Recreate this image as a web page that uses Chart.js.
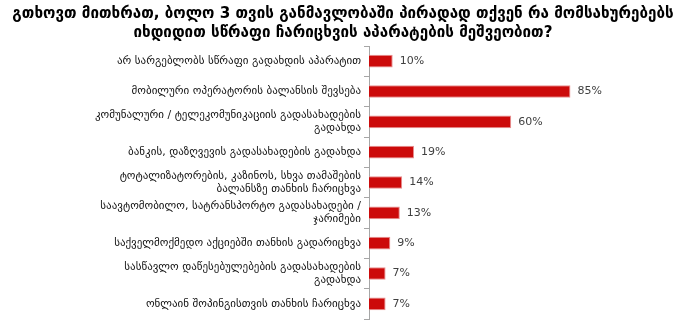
<!DOCTYPE html>
<html>
<head>
<meta charset="utf-8">
<script src="https://cdn.jsdelivr.net/npm/chart.js@4/dist/chart.umd.min.js"></script>
<style>
  html, body { margin: 0; padding: 0; background: #ffffff; }
  #wrap { width: 684px; height: 332px; position: relative; }
</style>
</head>
<body>
<div id="wrap"><canvas id="c" width="684" height="332"></canvas></div>
<script>
const titleLines = [
  "გთხოვთ მითხრათ, ბოლო 3 თვის განმავლობაში პირადად თქვენ რა მომსახურებებს",
  "იხდიდით სწრაფი ჩარიცხვის აპარატების მეშვეობით?"
];
const categories = [
  "არ სარგებლობს სწრაფი გადახდის აპარატით",
  "მობილური ოპერატორის ბალანსის შევსება",
  ["კომუნალური / ტელეკომუნიკაციის გადასახადების", "გადახდა"],
  "ბანკის, დაზღვევის გადასახადების გადახდა",
  ["ტოტალიზატორების, კაზინოს, სხვა თამაშების", "ბალანსზე თანხის ჩარიცხვა"],
  ["საავტომობილო, სატრანსპორტო გადასახადები /", "ჯარიმები"],
  "საქველმოქმედო აქციებში თანხის გადარიცხვა",
  ["სასწავლო დაწესებულებების გადასახადების", "გადახდა"],
  "ონლაინ შოპინგისთვის თანხის ჩარიცხვა"
];
const values = [10, 85, 60, 19, 14, 13, 9, 7, 7];

const FONT = "'DejaVu Sans', sans-serif";

const valueLabels = {
  id: 'valueLabels',
  afterDatasetsDraw(chart) {
    const ctx = chart.ctx;
    const meta = chart.getDatasetMeta(0);
    ctx.save();
    ctx.font = "11px " + FONT;
    ctx.fillStyle = "#404040";
    ctx.textAlign = "left";
    ctx.textBaseline = "middle";
    meta.data.forEach((bar, i) => {
      ctx.fillText(values[i] + "%", bar.x + 7, bar.y);
    });
    ctx.restore();
  }
};

const titlePlugin = {
  id: 'titlePlugin',
  afterDraw(chart) {
    const ctx = chart.ctx;
    ctx.save();
    ctx.font = "bold 15.2px " + FONT;
    ctx.fillStyle = "#000000";
    ctx.textAlign = "center";
    ctx.textBaseline = "middle";
    ctx.fillText(titleLines[0], 343, 14);
    ctx.fillText(titleLines[1], 343, 33);
    ctx.restore();
  }
};

new Chart(document.getElementById('c'), {
  type: 'bar',
  data: {
    labels: categories,
    datasets: [{
      data: values,
      backgroundColor: '#CC0A0A',
      borderColor: '#E89090',
      borderWidth: 1,
      borderSkipped: 'left',
      barPercentage: 0.42,
      categoryPercentage: 1.0
    }]
  },
  options: {
    indexAxis: 'y',
    responsive: false,
    animation: false,
    devicePixelRatio: 1,
    layout: { padding: { left: 0, right: 78, top: 46, bottom: 13 } },
    plugins: {
      legend: { display: false },
      tooltip: { enabled: false },
      title: { display: false }
    },
    scales: {
      x: {
        display: false,
        min: 0,
        max: 100
      },
      y: {
        afterFit(scale) { scale.width = 369; },
        border: { display: true, color: '#A6A6A6', width: 1 },
        grid: {
          display: true,
          drawOnChartArea: false,
          drawTicks: true,
          tickLength: 5,
          color: '#A6A6A6',
          offset: true
        },
        ticks: {
          color: '#111111',
          font: { family: FONT, size: 11, lineHeight: 1.2 },
          padding: 3,
          autoSkip: false
        }
      }
    }
  },
  plugins: [valueLabels, titlePlugin]
});
</script>
</body>
</html>
